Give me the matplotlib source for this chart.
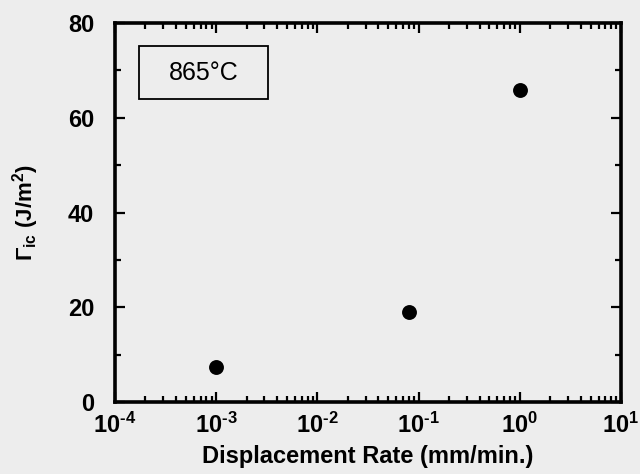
import matplotlib
matplotlib.use("Agg")
import matplotlib.pyplot as plt
from matplotlib.patches import Rectangle
from matplotlib.ticker import LogLocator, MultipleLocator, NullFormatter, FixedLocator, FixedFormatter

# Скорость перемещения (мм/мин) и вязкость расслоения Γic (Дж/м²), 865°C
rate = [1e-3, 8.1e-2, 1.0]
gamma_ic = [7.3, 19.0, 65.8]

xticks = [1e-4, 1e-3, 1e-2, 1e-1, 1e0, 1e1]
xtick_labels = ["10$^{\\text{-4}}$", "10$^{\\text{-3}}$", "10$^{\\text{-2}}$",
                "10$^{\\text{-1}}$", "10$^{\\text{0}}$", "10$^{\\text{1}}$"]
yticks = [0, 20, 40, 60, 80]

plt.rcParams["font.family"] = ["Liberation Sans", "DejaVu Sans"]
plt.rcParams["font.weight"] = "bold"
plt.rcParams["axes.labelweight"] = "bold"
plt.rcParams["mathtext.fontset"] = "custom"
plt.rcParams["mathtext.rm"] = "Liberation Sans:bold"
plt.rcParams["mathtext.it"] = "Liberation Sans:bold"
plt.rcParams["mathtext.bf"] = "Liberation Sans:bold"

paper = "#ededed"

fig = plt.figure(figsize=(6.4, 4.74), dpi=100, facecolor=paper)
ax = fig.add_axes([115 / 640, 1 - 402 / 474, 506 / 640, 379 / 474])
ax.set_facecolor(paper)

ax.scatter(rate, gamma_ic, s=115, color="black", linewidths=0, zorder=3)

ax.set_xscale("log")
ax.set_xlim(1e-4, 1e1)
ax.set_ylim(0, 80)

ax.xaxis.set_major_locator(FixedLocator(xticks))
ax.xaxis.set_major_formatter(FixedFormatter(xtick_labels))
ax.xaxis.set_minor_locator(LogLocator(base=10, subs=range(2, 10), numticks=20))
ax.xaxis.set_minor_formatter(NullFormatter())
ax.yaxis.set_major_locator(FixedLocator(yticks))
ax.yaxis.set_minor_locator(MultipleLocator(10))

ax.tick_params(which="both", direction="in", top=True, right=True, width=1.6)
ax.tick_params(which="major", length=7.5, labelsize=17)
ax.tick_params(axis="x", which="major", pad=8)
ax.tick_params(axis="y", which="major", pad=15)
ax.tick_params(which="minor", length=4)
for s in ax.spines.values():
    s.set_linewidth(2.6)

ax.set_xlabel("Displacement Rate (mm/min.)", fontsize=17, labelpad=5)
ax.set_ylabel(r"$\Gamma_{\text{ic}}$ (J/m$^{\text{2}}$)", fontsize=16, labelpad=19)

# рамка с температурой испытаний
ax.add_patch(Rectangle((0.0474, 0.799), 0.2549, 0.140, transform=ax.transAxes,
                       facecolor="none", edgecolor="black", linewidth=1.3))
ax.text(0.175, 0.869, "865°C", transform=ax.transAxes, fontsize=18, fontweight="normal",
        ha="center", va="center")

fig.savefig("out.png", dpi=100, facecolor=paper)
